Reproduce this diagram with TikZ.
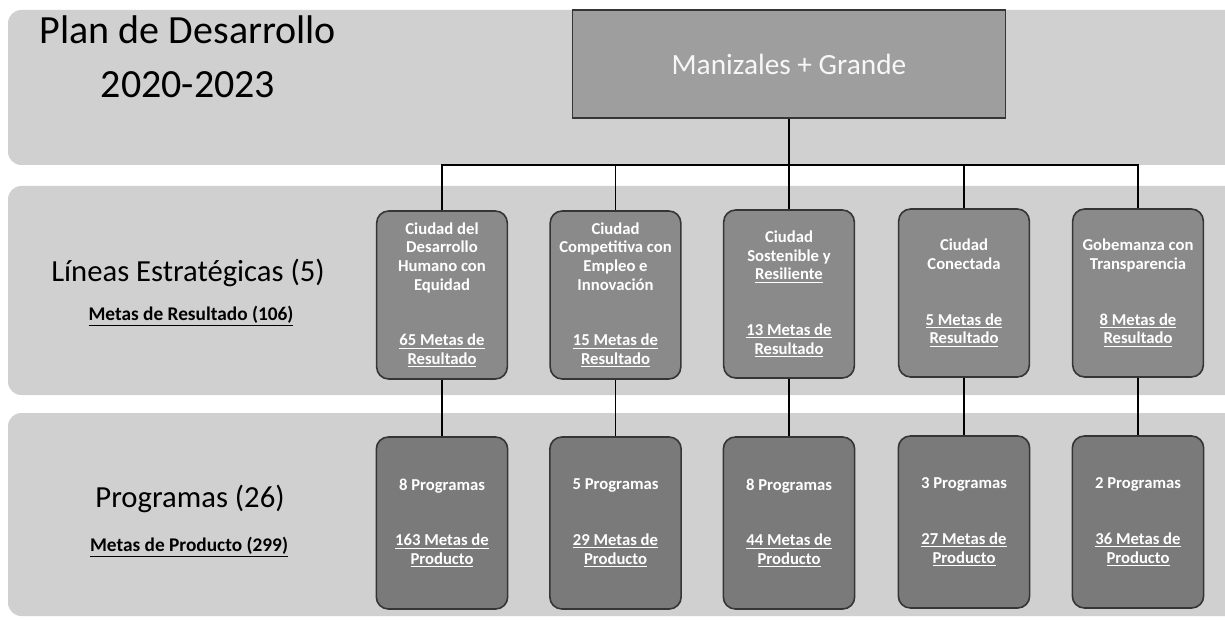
\documentclass[tikz,border=0pt]{standalone}
\usepackage{fontspec}
\setmainfont{Carlito}
\definecolor{bandgray}{HTML}{D0D0D0}
\definecolor{topgray}{HTML}{9E9E9E}
\definecolor{linegray}{HTML}{8A8A8A}
\definecolor{proggray}{HTML}{7A7A7A}
\definecolor{boxedge}{HTML}{353535}
\begin{document}
\begin{tikzpicture}[x=0.75pt,y=-0.75pt,
  band/.style={fill=bandgray, rounded corners=10pt},
  topbox/.style={draw=boxedge, line width=1.2pt, fill=topgray, inner sep=0pt,
    minimum width=324.75pt, minimum height=81pt, text=white!94!gray,
    font=\fontsize{22}{26}\selectfont},
  linebox/.style={draw=boxedge, line width=1.2pt, fill=linegray, rounded corners=9pt,
    inner sep=0pt, minimum width=98pt, minimum height=126pt, text=white, align=center,
    font=\bfseries\fontsize{12.5}{13.95}\selectfont},
  progbox/.style={draw=boxedge, line width=1.2pt, fill=proggray, rounded corners=9pt,
    inner sep=0pt, minimum width=98.5pt, minimum height=129pt, text=white, align=center,
    font=\bfseries\fontsize{12.5}{13.95}\selectfont},
  conn/.style={draw=black, line width=1.1pt},
  title/.style={font=\fontsize{30}{34}\selectfont, text=black, inner sep=0pt},
  label/.style={font=\fontsize{23}{27}\selectfont, text=black, inner sep=0pt},
  sublabel/.style={font=\bfseries\fontsize{14.5}{17}\selectfont, text=black, inner sep=0pt}
]
\clip (0,0) rectangle (1225,620);
\fill[white] (0,0) rectangle (1225,620);
% background bands
\path[band] (8,10) rectangle (1250,165);
\path[band] (8,186) rectangle (1250,395);
\path[band] (8,413) rectangle (1250,616);

% titles and left labels
\node[title] (t1) at (188,30) {Plan de Desarrollo};
\node[title] (t2) at (188,85) {2020-2023};
\node[label] (lab1) at (188,273) {Líneas Estratégicas (5)};
\node[sublabel] (sub1) at (191,316) {\underline{Metas de Resultado (106)}};
\node[label] (lab2) at (190,499) {Programas (26)};
\node[sublabel] (sub2) at (189,547) {\underline{Metas de Producto (299)}};

% top box
\node[topbox] (top) at (789,64) {Manizales + Grande};

% strategic lines
\node[linebox] (L1) at (442,295) {Ciudad del\\Desarrollo\\Humano con\\Equidad\\[27.9pt]\underline{65 Metas de}\\\underline{Resultado}};
\node[linebox] (L2) at (615.5,295) {Ciudad\\Competitiva con\\Empleo e\\Innovación\\[27.9pt]\underline{15 Metas de}\\\underline{Resultado}};
\node[linebox] (L3) at (789,294) {Ciudad\\Sostenible y\\\underline{Resiliente}\\[27.9pt]\underline{13 Metas de}\\\underline{Resultado}};
\node[linebox] (L4) at (964,293) {Ciudad\\Conectada\\[27.9pt]\underline{5 Metas de}\\\underline{Resultado}};
\node[linebox] (L5) at (1138,293) {Gobemanza con\\Transparencia\\[27.9pt]\underline{8 Metas de}\\\underline{Resultado}};

% programs
\node[progbox] (P1) at (442,523) {8 Programas\\[27.9pt]\underline{163 Metas de}\\\underline{Producto}};
\node[progbox] (P2) at (615.5,523) {5 Programas\\[27.9pt]\underline{29 Metas de}\\\underline{Producto}};
\node[progbox] (P3) at (789,523) {8 Programas\\[27.9pt]\underline{44 Metas de}\\\underline{Producto}};
\node[progbox] (P4) at (964,522) {3 Programas\\[27.9pt]\underline{27 Metas de}\\\underline{Producto}};
\node[progbox] (P5) at (1138,522) {2 Programas\\[27.9pt]\underline{36 Metas de}\\\underline{Producto}};

% connectors
\coordinate (bus) at (789,165);
\draw[conn] (top.south) -- (bus);
\foreach \i in {1,...,5}{
  \draw[conn] (bus) -| (L\i.north);
  \draw[conn] (L\i.south) -- (P\i.north);
}
\end{tikzpicture}
\end{document}
